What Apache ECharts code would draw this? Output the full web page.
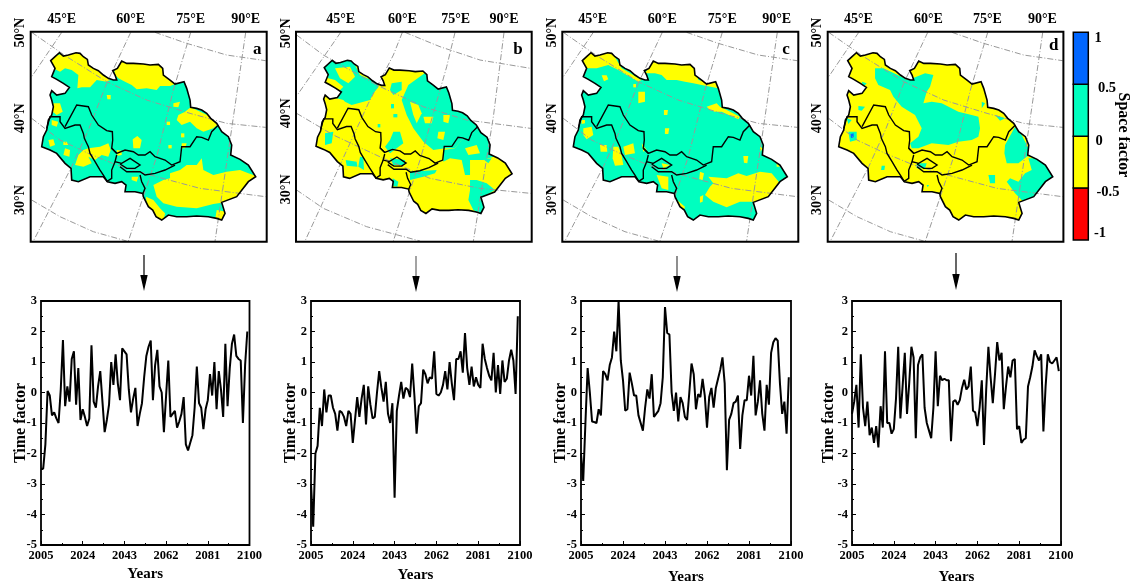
<!DOCTYPE html>
<html><head><meta charset="utf-8">
<script src="https://cdn.jsdelivr.net/npm/echarts@6/dist/echarts.min.js"></script>
<style>html,body{margin:0;padding:0;background:#fff}#c{width:1130px;height:582px}</style>
</head><body><div id="c"></div>
<script>
const startYear = 2005;
const timeA = [-2.5,-2.5,-1.7,0.05,-0.1,-0.75,-0.65,-0.85,-1.0,0.1,1.72,-0.45,0.2,-0.3,1.1,1.35,-0.4,0.8,-0.9,-0.55,-0.8,-1.1,-0.85,1.55,-0.3,-0.5,0.2,0.7,-0.3,-1.3,-0.9,-0.4,1.0,0.25,1.25,0.3,-0.25,1.45,1.35,1.25,0.1,-0.65,-0.2,0.15,-1.1,-0.7,-0.35,0.5,1.2,1.5,1.7,-0.25,0.9,1.4,0.2,0,-1.3,-0.1,1.05,-0.8,-0.7,-0.6,-1.15,-0.95,-0.7,-0.15,-1.7,-1.9,-1.65,-1.4,-0.5,0.85,-0.35,-0.5,-1.2,-0.55,-0.25,0.6,-0.1,1.0,-0.55,0.7,0.1,-0.8,1.6,-0.45,0.8,1.6,1.9,1.2,1.1,1.05,-1.0,0.9,2.0];
const timeB = [-3.0,-4.4,-2.0,-1.75,-0.5,-1.1,0.1,-0.65,-0.1,-0.1,-0.5,-0.7,-1.25,-0.6,-0.65,-0.8,-1.1,-0.6,-0.7,-1.65,-0.9,-0.15,-0.8,-0.2,0.25,-1.05,0.2,-0.4,-0.85,-0.8,0,0.7,0.15,-0.3,0.35,-0.7,-1.0,-0.35,-3.45,-0.6,-0.1,0.35,-0.2,0.15,0.1,-0.15,0.95,-0.1,-1.35,-0.45,-0.35,0.75,0.6,0.3,0.5,0.45,1.35,-0.05,-0.1,0,0.25,0.7,0.1,1.0,0.3,-0.25,1.1,1.1,1.35,0.65,1.95,0.8,0.25,0.85,0.2,0.5,0.25,0.15,1.6,1.1,0.8,0.55,0.4,1.3,0,0.9,-0.05,1.05,0.35,0.45,1.05,1.4,1.05,-0.05,2.5];
const timeC = [-2.0,-2.9,-1.0,0.8,0,-0.95,-0.97,-1.0,-0.55,-0.75,0.7,0.6,0.4,0.9,1.15,2.0,1.35,3.0,1.05,0.4,-0.6,-0.55,0.65,0.3,-0.1,-0.1,-0.75,-1.0,-1.25,-0.5,0.1,-0.2,0.6,-0.8,-0.7,-0.6,-0.35,0.5,2.8,1.95,1.9,0,-0.6,0,-0.95,-0.15,-0.35,-0.8,-0.9,0,0.95,0.6,-0.55,-0.05,-0.15,0.45,-0.1,-1.15,-0.15,0.15,-0.5,0.15,0.45,0.75,1.15,0.3,-2.55,-0.9,-0.7,-0.35,-0.3,-0.1,-1.85,-0.75,-0.25,-0.25,0.55,-0.1,1.2,-0.75,-0.3,0.4,-0.7,-1.25,0.25,-0.4,1.3,1.65,1.78,1.7,0.3,-0.7,-0.3,-1.35,0.5];
const timeD = [-0.7,-0.3,0.25,-1.15,1.25,-0.5,-1.1,-0.3,-1.4,-1.15,-1.65,-1.1,-1.8,-0.45,-1.15,1.35,-1.0,-1.0,-1.35,-1.2,-0.2,1.5,-0.85,0.2,1.3,-0.7,0.3,1.5,1.15,-1.5,0.9,1.15,1.25,-0.5,-1.0,-1.25,-1.5,-0.5,1.35,-0.45,0.55,0.4,0.45,0.4,0.4,-1.6,-0.3,-0.25,-0.4,-0.25,0.15,0.42,0.1,0.2,0.85,-0.6,-0.65,-1.1,-0.5,0.4,-1.72,0.1,1.5,0.5,-0.35,0.6,1.65,1.05,1.3,-0.55,0.2,0.85,0.5,1.05,1.1,-1.2,-1.1,-1.65,-1.55,-1.5,0.2,0.5,0.85,1.38,1.2,1.05,1.25,-1.28,0.2,1.25,1.0,0.95,1.05,1.15,0.7];

const basinOutline = [[152,182],[165,170],[178,158],[190,168],[205,165],[228,158],[240,160],[250,170],[262,178],[265,195],[280,205],[295,212],[310,225],[325,235],[340,240],[350,240],[345,225],[338,212],[352,205],[365,183],[380,190],[400,190],[430,192],[450,195],[475,193],[488,205],[490,225],[510,240],[525,252],[552,245],[560,265],[570,300],[572,322],[590,325],[605,330],[620,340],[632,355],[650,370],[665,395],[685,410],[695,435],[692,465],[720,478],[745,495],[767,530],[745,545],[710,590],[665,607],[675,640],[665,660],[650,655],[625,650],[590,648],[560,650],[530,650],[505,645],[485,660],[468,650],[458,630],[445,620],[430,590],[428,580],[405,575],[375,575],[378,555],[365,545],[345,550],[322,545],[310,530],[290,530],[270,530],[235,545],[215,540],[213,505],[195,490],[170,460],[150,450],[125,440],[130,410],[140,390],[145,360],[155,345],[160,320],[155,300],[150,285],[155,272],[170,285],[195,280],[208,262],[190,250],[170,238],[155,230],[165,205]];
const innerBorders = [
  [[195,380],[230,315],[265,320],[275,345],[295,375],[320,392],[337,395],[338,420],[335,445],[350,460]],
  [[140,385],[150,350],[180,350],[180,365],[195,385],[225,375],[240,375],[250,400],[253,415],[265,440],[270,460],[285,485],[300,510],[310,525],[322,545]],
  [[335,445],[350,460],[375,450],[400,455],[415,465],[435,465],[450,455],[465,470],[495,480],[515,495],[540,485],[545,440],[570,440],[590,410],[605,412],[625,420],[635,395],[655,375]],
  [[525,495],[495,510],[465,520],[435,525],[420,515],[380,515],[360,500]],
  [[420,525],[425,545],[435,565],[428,582]],
  [[350,465],[345,485],[365,490],[390,475],[420,495],[405,505],[380,505],[360,492]],
  [[345,485],[335,510],[335,535],[320,545]]
];

const graticuleACD = [
  [[185,97],[95,230]],
  [[392,97],[320,250],[265,390],[215,500],[100,723]],
  [[572,97],[520,270],[470,470],[385,723]],
  [[737,97],[690,420],[645,723]],
  [[95,97],[200,170],[320,245],[440,300],[570,340],[680,370],[797,382]],
  [[465,97],[560,130],[680,165],[797,182]],
  [[95,355],[180,420],[265,460],[350,495],[470,530],[600,565],[797,590]],
  [[95,600],[180,650],[280,695],[380,723]]
];
const graticuleB = [
  [[182,97],[52,285]],
  [[367,97],[340,165],[265,310],[75,723]],
  [[525,97],[500,200],[420,480],[340,723]],
  [[672,97],[640,350],[580,723]],
  [[50,105],[130,165],[290,255],[430,320],[560,360],[752,385]],
  [[375,97],[480,140],[600,180],[752,205]],
  [[50,340],[160,405],[310,475],[450,535],[600,565],[752,580]],
  [[50,570],[130,625],[260,680],[420,723]]
];

const yellowA = [
  [[150,170],[240,150],[270,180],[330,240],[320,245],[290,240],[270,262],[245,262],[232,265],[235,225],[215,210],[195,205],[180,215],[160,205],[150,195]],
  [[340,195],[370,175],[490,190],[495,225],[525,252],[510,258],[480,258],[470,270],[440,265],[410,268],[395,255],[375,245],[355,235],[345,225]],
  [[160,310],[180,310],[188,335],[170,345],[158,335]],
  [[572,322],[632,350],[655,372],[640,385],[610,395],[590,385],[570,365],[545,375],[530,360],[535,345],[555,335]],
  [[520,310],[540,305],[535,322],[520,320]],
  [[398,418],[412,408],[425,420],[420,445],[400,445]],
  [[350,450],[365,452],[365,465],[352,467]],
  [[265,445],[300,440],[325,430],[332,450],[325,470],[305,465],[285,480],[265,470],[275,490],[250,500],[225,495],[235,465],[250,450]],
  [[145,420],[160,418],[165,435],[150,440]],
  [[155,360],[175,365],[170,380],[155,375]],
  [[190,425],[200,425],[205,435],[190,435]],
  [[195,445],[210,450],[208,470],[190,465]],
  [[510,520],[540,510],[560,495],[590,495],[605,475],[610,510],[640,525],[680,515],[720,510],[745,520],[775,530],[745,550],[710,595],[665,608],[640,612],[590,625],[530,620],[490,610],[470,590],[460,555],[490,540],[510,535]],
  [[545,430],[560,430],[555,445],[545,445]],
  [[438,590],[460,600],[480,625],[495,640],[490,665],[465,655],[440,620]],
  [[650,630],[680,635],[675,665],[645,660]],
  [[395,530],[415,530],[410,545],[395,540]],
  [[320,285],[332,285],[332,298],[322,298]],
  [[500,365],[510,365],[510,375],[500,375]],
  [[543,400],[553,400],[553,412],[543,412]],
  [[505,435],[515,435],[515,445],[505,445]]
];
const greenB = [
  [[125,200],[150,175],[215,175],[240,225],[295,250],[295,262],[280,280],[270,300],[215,315],[195,305],[190,300],[170,295],[135,285],[175,275],[190,260],[165,240],[145,235],[135,220]],
  [[335,250],[365,245],[365,270],[340,285],[330,270]],
  [[385,255],[440,215],[470,250],[505,255],[525,330],[565,345],[600,385],[590,410],[545,420],[525,445],[495,445],[460,450],[430,425],[415,405],[400,385],[380,345],[365,300]],
  [[340,395],[360,395],[370,430],[330,460],[315,440],[330,420]],
  [[490,450],[525,445],[560,400],[595,390],[635,420],[640,470],[610,480],[570,480],[570,525],[555,525],[545,480],[510,475],[490,485]],
  [[570,540],[590,540],[620,550],[645,570],[610,590],[610,645],[580,630],[565,600],[570,570]],
  [[390,515],[470,510],[465,520],[430,530],[390,540]],
  [[135,400],[160,395],[155,430],[135,435]],
  [[197,480],[230,485],[232,500],[200,497]],
  [[240,470],[250,472],[252,510],[235,500]],
  [[338,535],[355,545],[352,560],[340,558]],
  [[330,475],[375,480],[375,495],[340,495]],
  [[610,478],[635,475],[625,490]],
  [[333,312],[342,312],[342,325],[333,325]],
  [[340,342],[352,342],[352,352],[340,352]],
  [[293,372],[301,372],[301,382],[293,382]]
];
const yellowHolesB = [
  [[165,205],[210,200],[225,230],[205,250],[180,235]],
  [[390,305],[415,315],[425,340],[410,370],[400,345]],
  [[430,350],[460,350],[455,370],[435,370]],
  [[490,345],[510,345],[505,370],[490,365]],
  [[475,395],[495,395],[490,420],[472,415]],
  [[555,445],[590,435],[600,460],[565,465]]
];
const yellowC = [
  [[90,180],[125,150],[185,155],[215,205],[275,240],[265,245],[205,210],[175,195],[140,205],[115,205],[95,200]],
  [[285,220],[315,175],[435,190],[445,240],[470,245],[505,250],[505,265],[455,255],[430,250],[405,245],[380,240],[350,240],[335,225],[315,220]],
  [[470,320],[500,310],[510,320],[520,325],[570,350],[565,358],[515,335],[495,335],[480,330]],
  [[155,226],[170,226],[175,238],[162,244]],
  [[265,275],[285,275],[285,305],[265,310]],
  [[342,330],[354,330],[352,345],[342,345]],
  [[345,385],[358,385],[355,402],[345,402]],
  [[250,252],[258,252],[258,262],[250,262]],
  [[100,385],[125,380],[130,405],[110,418],[100,405]],
  [[95,360],[105,360],[105,370],[95,372]],
  [[150,435],[170,435],[172,455],[152,455]],
  [[190,440],[205,440],[215,465],[220,495],[195,497],[188,475]],
  [[220,440],[250,430],[255,460],[225,465]],
  [[275,430],[290,450],[280,455]],
  [[320,525],[355,530],[355,570],[335,565]],
  [[335,490],[360,495],[340,505]],
  [[450,515],[462,520],[458,540],[448,538]],
  [[475,530],[530,535],[565,520],[590,528],[630,515],[665,520],[690,550],[640,605],[610,605],[570,605],[530,622],[490,605],[465,585],[480,560],[490,550]],
  [[450,590],[460,585],[458,605],[450,608]],
  [[375,595],[405,620],[400,635],[380,615]],
  [[580,468],[595,468],[592,490],[582,488]],
  [[630,440],[638,445],[632,455]],
  [[680,490],[690,500],[680,500]]
];
const greenD = [
  [[180,205],[205,205],[280,240],[330,220],[355,225],[345,260],[335,275],[325,310],[350,305],[380,310],[430,335],[470,345],[490,350],[495,385],[490,410],[470,420],[430,425],[400,435],[350,430],[310,445],[290,445],[285,430],[310,410],[320,385],[300,345],[260,320],[235,290],[225,270],[190,255],[180,235]],
  [[570,435],[600,380],[620,405],[650,465],[635,470],[610,490],[575,490],[568,460]],
  [[640,475],[670,475],[700,495],[720,530],[680,565],[650,595],[625,605],[600,580],[575,545],[585,535],[610,545],[630,520],[650,510]],
  [[520,525],[540,525],[540,550],[525,550]],
  [[100,395],[125,395],[125,420],[105,425]],
  [[130,318],[150,320],[140,332],[130,330]],
  [[95,355],[110,360],[100,372]],
  [[500,305],[510,310],[500,325]],
  [[540,345],[570,355],[555,362]],
  [[200,497],[210,497],[208,510],[198,510]],
  [[140,245],[155,250],[145,260]],
  [[335,555],[342,555],[338,562]],
  [[305,490],[335,490],[330,505],[305,505]]
];
const blueD = [[[106,402],[116,400],[116,412],[108,414]]];

const cbLows = [-1,-0.5,0,0.5];
const cbColors = ['#FF0000','#FFFF00','#00FFBF','#0066FF'];
const cbLabels = ['1','0.5','0','-0.5','-1'];

const GREEN='#00FFBF', YELLOW='#FFFF00', BLUE='#0070FF';
const FONT='"Liberation Serif"';

const maps = [
 {f:[92,800], ox:125, oy:157, kx:1, ky:1, base:GREEN, grat:graticuleACD, patches:[[yellowA,YELLOW]], letter:'a', lp:[772,150],
  lonT:[185,392,572,737], latT:[98,355,600], left:30.7, width:236},
 {f:[48,755], ox:108, oy:180, kx:.916, ky:.915, base:YELLOW, grat:graticuleB, patches:[[greenB,GREEN],[yellowHolesB,YELLOW]], letter:'b', lp:[714,148],
  lonT:[182,367,527,672], latT:[100,340,568], left:296, width:235.7},
 {f:[37,745], ox:70, oy:157, kx:1, ky:1, base:GREEN, grat:null, patches:[[yellowC,YELLOW]], letter:'c', lp:[708,150], dx:-55,
  lonT:[128,337,517,680], latT:[98,355,600], left:562.3, width:236},
 {f:[38,745], ox:71, oy:157, kx:1, ky:1, base:YELLOW, grat:null, patches:[[greenD,GREEN],[blueD,BLUE]], letter:'d', lp:[716,138], dx:-54,
  lonT:[130,340,517,682], latT:[98,355,600], left:827.7, width:235.7}
];
const lonNames=['45°E','60°E','75°E','90°E'], latNames=['50°N','40°N','30°N'];

const lines = [
 {v:timeA,left:41,right:249.5,gapN:22,gapY:12},
 {v:timeB,left:311,right:520,gapN:23,gapY:12},
 {v:timeC,left:581,right:791,gapN:25,gapY:12},
 {v:timeD,left:852,right:1061,gapN:25,gapY:15}
];

const grid=[],xAxis=[],yAxis=[],series=[];
maps.forEach((m,i)=>{
  grid.push({left:m.left,width:m.width,top:31.7,height:210,outerBoundsMode:'none'});
  xAxis.push({gridIndex:i,type:'value',position:'top',min:m.f[0],max:m.f[1],splitLine:{show:false},
    axisLine:{show:false,onZero:false},
    axisTick:{show:true,inside:true,length:4,customValues:m.lonT,lineStyle:{color:'#000',width:1.2}},
    axisLabel:{show:true,margin:5,customValues:m.lonT,formatter:v=>lonNames[m.lonT.indexOf(v)]||'',
      fontFamily:FONT,fontWeight:'bold',fontSize:14,color:'#000'}});
  yAxis.push({gridIndex:i,type:'value',inverse:true,min:95,max:725,splitLine:{show:false},
    axisLine:{show:false,onZero:false},
    axisTick:{show:true,inside:true,length:4,customValues:m.latT,lineStyle:{color:'#000',width:1.2}},
    axisLabel:{show:true,rotate:90,margin:3,customValues:m.latT,formatter:v=>latNames[m.latT.indexOf(v)]||'',
      fontFamily:FONT,fontWeight:'bold',fontSize:14,color:'#000'}});
  const place=p=>[m.ox+(p[0]-125)*m.kx, m.oy+(p[1]-157)*m.ky];
  const gratLocal=(m.grat||graticuleACD.map(l=>l.map(p=>[p[0]+(m.dx||0),p[1]])));
  series.push({type:'custom',xAxisIndex:i,yAxisIndex:i,coordinateSystem:'cartesian2d',clip:false,silent:true,z:2,
    data:[[0,0]],
    renderItem:(params,api)=>{
      const c=p=>api.coord(p);
      const X0=m.f[0],X1=m.f[1],Y0=95,Y1=725;
      const out=basinOutline.map(place);
      const kids=[];
      kids.push({type:'polygon',shape:{points:out.map(c)},style:{fill:m.base}});
      m.patches.forEach(([list,col])=>list.forEach(r=>kids.push({type:'polygon',shape:{points:r.map(c)},style:{fill:col}})));
      const mask=[[X0,Y0],[X0,Y1],[X1,Y1],[X1,Y0],[X0,Y0],out[0],...out.slice(1),out[0],[X0,Y0]];
      kids.push({type:'polygon',shape:{points:mask.map(c)},style:{fill:'#fff'}});
      gratLocal.forEach(l=>kids.push({type:'polyline',shape:{points:l.map(c)},style:{fill:'none',stroke:'#999',lineWidth:1,lineDash:[6,2,1,2]}}));
      kids.push({type:'polygon',shape:{points:out.map(c)},style:{fill:'none',stroke:'#000',lineWidth:1.6}});
      innerBorders.forEach(l=>kids.push({type:'polyline',shape:{points:l.map(place).map(c)},style:{fill:'none',stroke:'#000',lineWidth:1.4}}));
      const a=c([X0,Y0]),b=c([X1,Y1]);
      kids.push({type:'rect',shape:{x:a[0],y:a[1],width:b[0]-a[0],height:b[1]-a[1]},style:{fill:'none',stroke:'#000',lineWidth:2}});
      const lp=c(m.lp);
      kids.push({type:'text',x:lp[0],y:lp[1],style:{text:m.letter,fontFamily:FONT,fontWeight:'bold',fontSize:17,fill:'#000',textAlign:'center',textVerticalAlign:'middle'}});
      return {type:'group',children:kids};
    }});
});
lines.forEach((l,k)=>{
  const i=grid.length;
  grid.push({left:l.left,width:l.right-l.left,top:301,height:244,show:true,borderColor:'#000',borderWidth:1.8,backgroundColor:'transparent',outerBoundsMode:'none'});
  xAxis.push({gridIndex:i,type:'value',min:0,max:95,interval:19,name:'Years',nameLocation:'middle',nameGap:l.gapN,nameMoveOverlap:false,
    nameTextStyle:{fontFamily:FONT,fontWeight:'bold',fontSize:15,color:'#000'},
    splitLine:{show:false},axisLine:{show:false,onZero:false},
    axisTick:{inside:true,length:4,lineStyle:{color:'#000',width:1}},
    minorTick:{show:true,splitNumber:2,length:2,lineStyle:{color:'#000',width:1}},minorSplitLine:{show:false},
    axisLabel:{margin:4,showMinLabel:true,showMaxLabel:true,hideOverlap:false,formatter:v=>String(startYear+v),fontFamily:FONT,fontWeight:'bold',fontSize:12.5,color:'#000'}});
  yAxis.push({gridIndex:i,type:'value',min:-5,max:3,interval:1,name:'Time factor',nameLocation:'middle',nameGap:l.gapY,nameMoveOverlap:false,
    nameTextStyle:{fontFamily:FONT,fontWeight:'bold',fontSize:16,color:'#000'},
    splitLine:{show:false},axisLine:{show:false,onZero:false},
    axisTick:{inside:true,length:4,lineStyle:{color:'#000',width:1}},
    minorTick:{show:true,splitNumber:2,length:2,lineStyle:{color:'#000',width:1}},minorSplitLine:{show:false},
    axisLabel:{margin:4,showMinLabel:true,showMaxLabel:true,fontFamily:FONT,fontWeight:'bold',fontSize:12.5,color:'#000'}});
  series.push({type:'line',xAxisIndex:i,yAxisIndex:i,data:l.v.map((v,t)=>[t,v]),showSymbol:false,symbol:'none',smooth:false,clip:true,
    lineStyle:{color:'#000',width:2},silent:true,animation:false});
});
// colour bar
{
  const i=grid.length;
  grid.push({left:1073.3,width:15,top:32.3,height:207.7,outerBoundsMode:'none'});
  xAxis.push({gridIndex:i,type:'value',min:0,max:1,show:false});
  yAxis.push({gridIndex:i,type:'value',min:-1,max:1,show:false});
  series.push({type:'custom',xAxisIndex:i,yAxisIndex:i,silent:true,clip:false,
    data:cbLows.map((v,n)=>[n,v]),
    renderItem:(params,api)=>{
      const n=api.value(0),lo=api.value(1);
      const a=api.coord([0,lo+0.5]),b=api.coord([1,lo]);
      return {type:'rect',shape:{x:a[0],y:a[1],width:b[0]-a[0],height:b[1]-a[1]},style:{fill:cbColors[n],stroke:'#000',lineWidth:1.5}};
    }});
}
const txt=(x,y,t,fs,rot)=>({type:'text',x,y,rotation:rot||0,silent:true,style:{text:t,fontFamily:FONT,fontWeight:'bold',fontSize:fs,fill:'#000',align:'center',verticalAlign:'middle'}});
const arrow=(x,y0,y1,col)=>([
  {type:'line',silent:true,shape:{x1:x,y1:y0,x2:x,y2:y1-12},style:{stroke:col,lineWidth:1.2}},
  {type:'polygon',silent:true,shape:{points:[[x-3.7,y1-16],[x+3.7,y1-16],[x,y1]]},style:{fill:'#000'}}
]);
const graphic=[
  txt(1098,38,cbLabels[0],14.5),txt(1107,88,cbLabels[1],14.5),txt(1099,141,cbLabels[2],14.5),txt(1108,192,cbLabels[3],14.5),txt(1100,233,cbLabels[4],14.5),
  txt(1123,135,'Space factor',16,-Math.PI/2),
  ...arrow(144,255,291,'#000'),...arrow(416,256,292,'#666'),...arrow(677,256,292,'#444'),...arrow(956,253,290,'#000')
];
const chart=echarts.init(document.getElementById('c'),null,{renderer:'canvas'});
chart.setOption({animation:false,backgroundColor:'#fff',grid,xAxis,yAxis,series,graphic});
</script></body></html>
